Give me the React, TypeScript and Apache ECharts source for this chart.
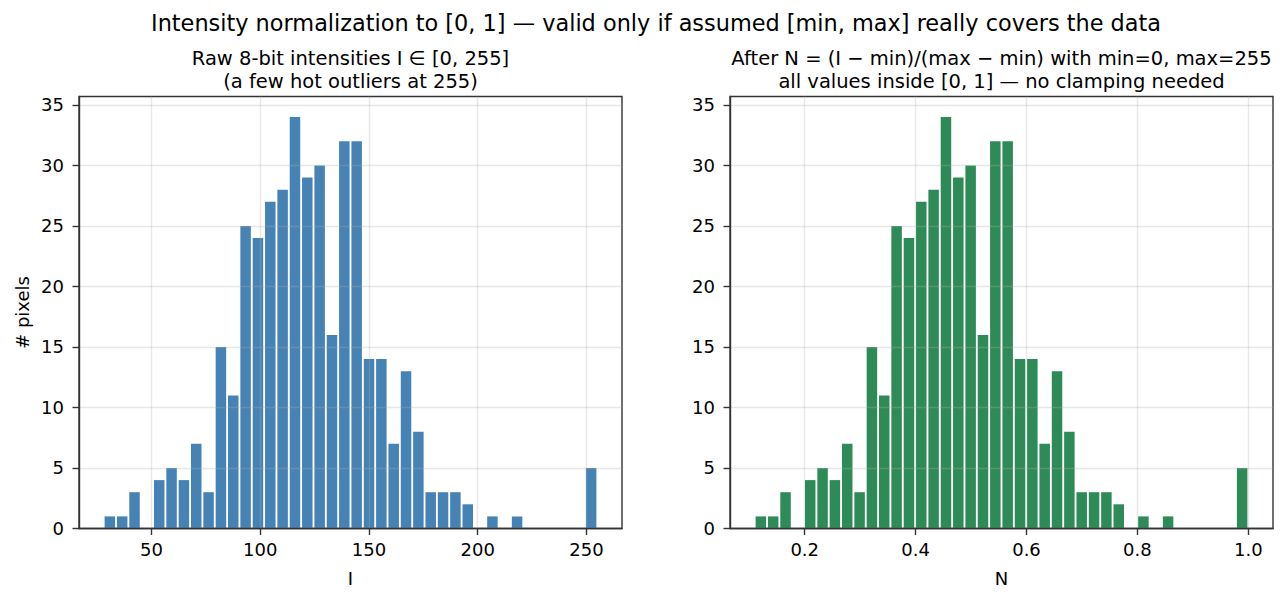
import React, { useEffect, useRef } from "react";
import * as echarts from "echarts";

// Raw 8-bit intensity histogram: range of the data and per-bin pixel counts
const I_MIN = 28;
const I_MAX = 255;
const BIN_COUNT = 40;
const COUNTS = [
  1, 1, 3, 0, 4, 5, 4, 7, 3, 15,
  11, 25, 24, 27, 28, 34, 29, 30, 16, 32,
  32, 14, 14, 7, 13, 8, 3, 3, 3, 2,
  0, 1, 0, 1, 0, 0, 0, 0, 0, 5,
];
// Normalization bounds used for N = (I - min) / (max - min)
const NORM_MIN = 0;
const NORM_MAX = 255;

const TICKS_I = [50, 100, 150, 200, 250];
const TICKS_N = [0.2, 0.4, 0.6, 0.8, 1.0];
const TICKS_Y = [0, 5, 10, 15, 20, 25, 30, 35];

const TITLE =
  "Intensity normalization to [0, 1] — valid only if assumed [min, max] really covers the data";
const LEFT_TITLE = ["Raw 8-bit intensities I ∈ [0, 255]", "(a few hot outliers at 255)"];
const RIGHT_TITLE = [
  "After N = (I − min)/(max − min) with min=0, max=255",
  "all values inside [0, 1] — no clamping needed",
];

const BLUE = "#4682B4";
const GREEN = "#2E8B57";
const INK = "#333333";
const GRID_LINE = "rgba(176,176,176,0.3)";
const FONT = "DejaVu Sans";
const RWIDTH = 0.85;

const normalize = (v: number) => (v - NORM_MIN) / (NORM_MAX - NORM_MIN);

// histogram rows [left edge, right edge, count]
const binWidth = (I_MAX - I_MIN) / BIN_COUNT;
const rawBins = COUNTS.map((c, k) => [I_MIN + k * binWidth, I_MIN + (k + 1) * binWidth, c]);
const normBins = rawBins.map(([a, b, c]) => [normalize(a), normalize(b), c]);

// 5% data margins on each side of the x range, 5% headroom above the tallest bar
const padded = (lo: number, hi: number) => {
  const m = (hi - lo) * 0.05;
  return [lo - m, hi + m];
};
const [xMinL, xMaxL] = padded(I_MIN, I_MAX);
const [xMinR, xMaxR] = padded(normalize(I_MIN), normalize(I_MAX));
const yMax = Math.max(...COUNTS) * 1.05;

const barRenderer = (color: string) => (_params: any, api: any) => {
  const x0 = api.value(0);
  const x1 = api.value(1);
  const c = api.value(2);
  const pad = ((x1 - x0) * (1 - RWIDTH)) / 2;
  const p0 = api.coord([x0 + pad, c]);
  const p1 = api.coord([x1 - pad, 0]);
  return {
    type: "rect",
    shape: { x: p0[0], y: p0[1], width: p1[0] - p0[0], height: p1[1] - p0[1] },
    style: { fill: color },
  };
};

const GRID_TOP = 96.5;
const GRID_H = 432;
const GRID_W = 543;
const LEFT_X = 79;
const RIGHT_X = 730;

const xAxisCfg = (gridIndex: number, min: number, max: number, ticks: number[], fmt: (v: number) => string) => ({
  type: "value",
  gridIndex,
  min,
  max,
  z: 5,
  axisLine: { show: true, onZero: false, lineStyle: { color: INK, width: 1.4 } },
  axisTick: { show: true, length: 6.5, customValues: ticks, lineStyle: { color: INK, width: 1.4 } },
  axisLabel: {
    customValues: ticks,
    margin: 12,
    color: "#000",
    fontSize: 18,
    fontFamily: FONT,
    formatter: (v: number) => fmt(v),
  },
  splitLine: { show: true, lineStyle: { color: GRID_LINE, width: 1.4 } },
});

const yAxisCfg = (gridIndex: number) => ({
  type: "value",
  gridIndex,
  min: 0,
  max: yMax,
  interval: 5,
  z: 5,
  axisLine: { show: true, onZero: false, lineStyle: { color: INK, width: 1.4 } },
  axisTick: { show: true, length: 6.5, customValues: TICKS_Y, lineStyle: { color: INK, width: 1.4 } },
  axisLabel: {
    customValues: TICKS_Y,
    margin: 15,
    color: "#000",
    fontSize: 18,
    fontFamily: FONT,
  },
  splitLine: { show: true, lineStyle: { color: GRID_LINE, width: 1.4 } },
});

const label = (text: string, x: number, y: number, size: number, rotation = 0) => ({
  type: "text",
  x,
  y,
  rotation,
  style: {
    text,
    fill: "#000",
    font: `${size}px '${FONT}'`,
    align: "center",
    verticalAlign: "middle",
    textAlign: "center",
    textVerticalAlign: "middle",
  },
});

export default function App() {
  const ref = useRef<HTMLDivElement>(null);

  useEffect(() => {
    if (!ref.current) return;
    const chart = echarts.init(ref.current, undefined, { renderer: "svg" });
    const cL = LEFT_X + GRID_W / 2;
    const cR = RIGHT_X + GRID_W / 2;
    chart.setOption({
      animation: false,
      backgroundColor: "#fff",
      grid: [
        { left: LEFT_X, top: GRID_TOP, width: GRID_W, height: GRID_H, show: true, borderColor: INK, borderWidth: 1.4, containLabel: false },
        { left: RIGHT_X, top: GRID_TOP, width: GRID_W, height: GRID_H, show: true, borderColor: INK, borderWidth: 1.4, containLabel: false },
      ],
      xAxis: [
        xAxisCfg(0, xMinL, xMaxL, TICKS_I, (v) => String(v)),
        xAxisCfg(1, xMinR, xMaxR, TICKS_N, (v) => v.toFixed(1)),
      ],
      yAxis: [yAxisCfg(0), yAxisCfg(1)],
      series: [
        {
          type: "custom",
          xAxisIndex: 0,
          yAxisIndex: 0,
          z: 2,
          encode: { x: [0, 1], y: 2 },
          data: rawBins,
          renderItem: barRenderer(BLUE),
        },
        {
          type: "custom",
          xAxisIndex: 1,
          yAxisIndex: 1,
          z: 2,
          encode: { x: [0, 1], y: 2 },
          data: normBins,
          renderItem: barRenderer(GREEN),
        },
      ],
      graphic: [
        label(TITLE, 656, 23, 22.4),
        label(LEFT_TITLE[0], cL, 58, 19.5),
        label(LEFT_TITLE[1], cL, 81, 19.5),
        label(RIGHT_TITLE[0], cR, 58, 19.5),
        label(RIGHT_TITLE[1], cR, 81, 19.5),
        label("I", cL, 578, 18),
        label("N", cR, 578, 18),
        label("# pixels", 22, GRID_TOP + GRID_H / 2, 18, Math.PI / 2),
      ],
    });
    return () => chart.dispose();
  }, []);

  return (
    <div
      ref={ref}
      style={{ position: "fixed", left: 0, top: 0, width: 1286, height: 602, background: "#fff" }}
    />
  );
}
